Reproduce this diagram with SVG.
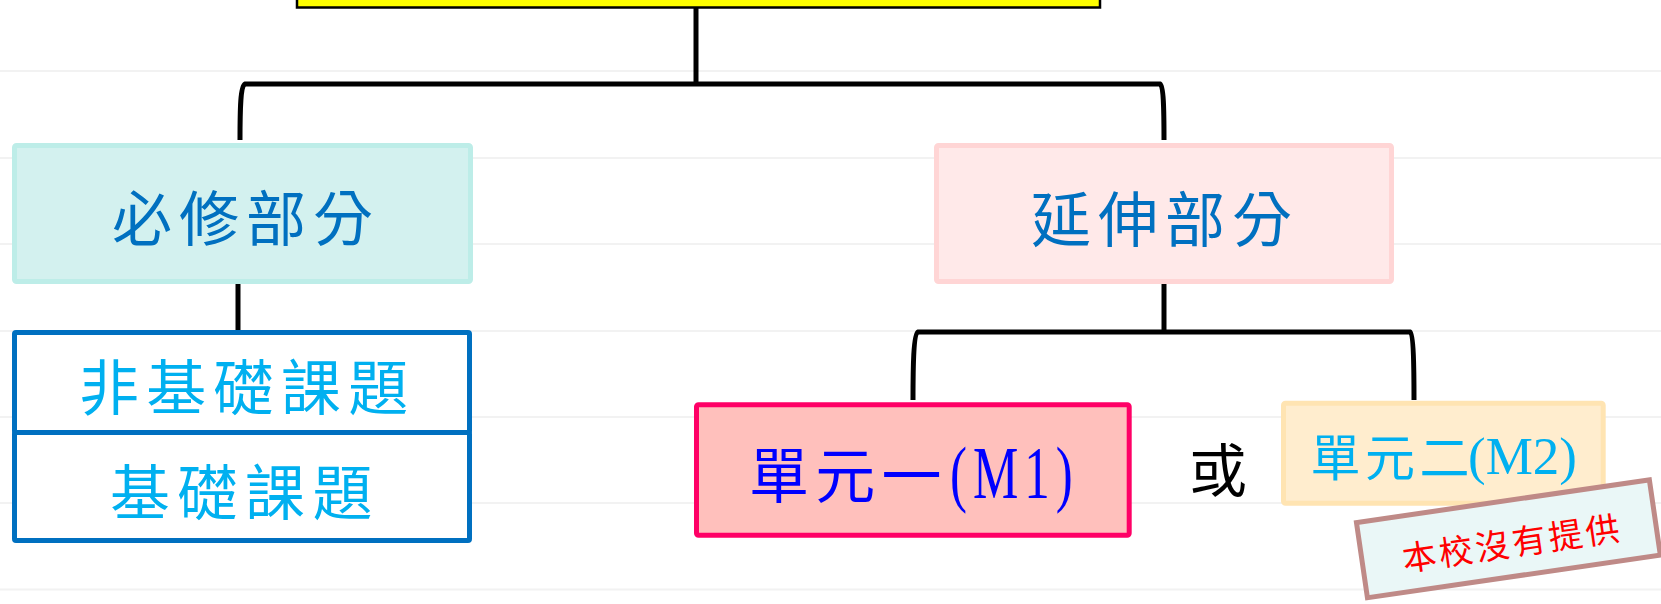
<svg xmlns="http://www.w3.org/2000/svg" width="1661" height="604" viewBox="0 0 1661 604">
<style>
.grid{stroke:#F2F2F2;stroke-width:2}
.conn{fill:none;stroke:#000;stroke-width:5}
.cjk{font-family:"Noto Sans CJK TC","Noto Sans CJK SC",sans-serif}
.ser{font-family:"Liberation Serif",serif}
</style>
<rect width="1661" height="604" fill="#FFFFFF"/>
<g id="grid">
<line class="grid" x1="0" y1="71" x2="1661" y2="71"/>
<line class="grid" x1="0" y1="158" x2="1661" y2="158"/>
<line class="grid" x1="0" y1="244" x2="1661" y2="244"/>
<line class="grid" x1="0" y1="331" x2="1661" y2="331"/>
<line class="grid" x1="0" y1="417" x2="1661" y2="417"/>
<line class="grid" x1="0" y1="503" x2="1661" y2="503"/>
<line class="grid" x1="0" y1="589.5" x2="1661" y2="589.5"/>
</g>
<g id="connectors">
<path class="conn" d="M696,8 V84"/>
<path class="conn" d="M240,140 C240,108 240.5,86 245,84 L1160,84 C1163.5,86 1164,108 1164,140"/>
<path class="conn" d="M238,284 V330"/>
<path class="conn" d="M1164,284 V332"/>
<path class="conn" d="M913,400 C913,368 913.5,334 918,332 L1410,332 C1413.5,334 1414,368 1414,400"/>
</g>
<g id="top">
<rect x="297" y="-10" width="803" height="17.5" fill="#FFFF00" stroke="#000" stroke-width="2.5"/>
</g>
<g id="required">
<rect x="14.5" y="145.5" width="456" height="136" rx="2" fill="#D3F1EF" stroke="#BDEDE8" stroke-width="5"/>
<text class="cjk" x="112" y="241" font-size="60" letter-spacing="7" fill="#0070C0">必修部分</text>
</g>
<g id="extension">
<rect x="936.5" y="145.5" width="455" height="136" rx="2" fill="#FFE9E9" stroke="#FFD5D5" stroke-width="5"/>
<text class="cjk" x="1031" y="242" font-size="60" letter-spacing="7" fill="#0070C0">延伸部分</text>
</g>
<g id="non-foundation">
<rect x="14.5" y="332.5" width="455" height="100" rx="1.5" fill="#FFFFFF" stroke="#0070C0" stroke-width="5"/>
<text class="cjk" x="79" y="410" font-size="60" letter-spacing="7.3" fill="#00B0F0">非基礎課題</text>
</g>
<g id="foundation">
<rect x="14.5" y="432.5" width="455" height="108" rx="1.5" fill="#FFFFFF" stroke="#0070C0" stroke-width="5"/>
<text class="cjk" x="110" y="514.5" font-size="60" letter-spacing="7.5" fill="#00B0F0">基礎課題</text>
</g>
<g id="m1">
<rect x="696.5" y="404.8" width="432.7" height="130.4" rx="2" fill="#FFC0BC" stroke="#FF0066" stroke-width="5"/>
<text class="cjk" x="749" y="498" font-size="60" letter-spacing="6.3" fill="#0000FF">單元一</text>
<text class="ser" transform="translate(950,498) scale(0.85,1.25)" x="0" y="0" font-size="60" letter-spacing="7" fill="#0000FF">(M1)</text>
</g>
<g id="or">
<text class="cjk" x="1189" y="492" font-size="58" fill="#000000">或</text>
</g>
<g id="m2">
<rect x="1283.5" y="403.2" width="319.7" height="100" rx="2" fill="#FFEDCE" stroke="#FFE4B2" stroke-width="5"/>
<text class="cjk" x="1310.5" y="475.7" font-size="50" letter-spacing="4.5" fill="#00B0F0">單元二</text>
<text class="ser" x="1468" y="474" font-size="53" fill="#00B0F0">(M2)</text>
</g>
<g id="note" transform="rotate(-8.3 1508.4 538.8)">
<rect x="1360.4" y="500.8" width="296" height="76" fill="#EAF7F7" stroke="#BF8A87" stroke-width="5"/>
<text class="cjk" x="1400.5" y="556.2" font-size="34" letter-spacing="3" fill="#FF0000">本校沒有提供</text>
</g>
</svg>
